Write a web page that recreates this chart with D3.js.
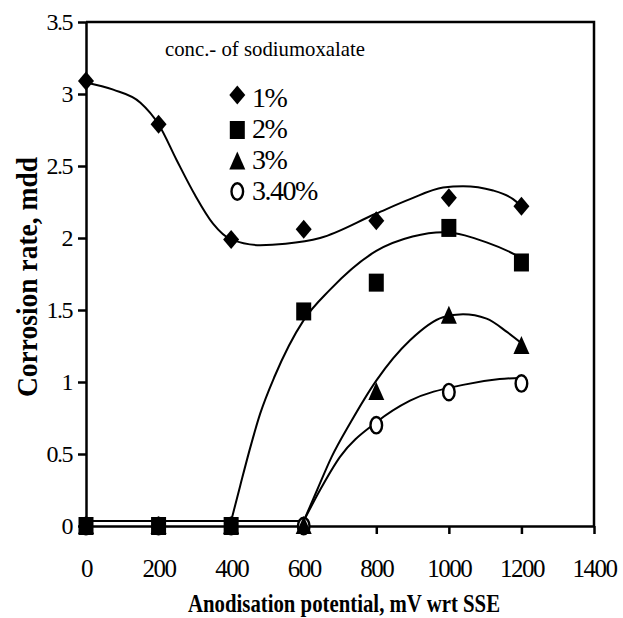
<!DOCTYPE html>
<html><head><meta charset="utf-8">
<script src="https://cdn.jsdelivr.net/npm/d3@7"></script>
<style>
html,body{margin:0;padding:0;background:#fff;}
</style></head>
<body><svg id="c" width="623" height="618" font-family="Liberation Serif, Tinos, Times New Roman, Times, DejaVu Serif, Noto Serif, serif"></svg>
<script>
// ---- data ----
const potentials = [0, 200, 400, 600, 800, 1000, 1200];
const seriesNames = ["1%", "2%", "3%", "3.40%"];
const rate1 = [3.09, 2.79, 1.99, 2.06, 2.12, 2.28, 2.22];
const rate2 = [0, 0, 0, 1.49, 1.69, 2.07, 1.83];
const rate3 = [0, 0, 0, 0, 0.93, 1.46, 1.25];
const rate4 = [0, 0, 0, 0, 0.70, 0.93, 0.99];
// smoothed trend curves as drawn in the reference (mV, mdd)
const trend1 = [[0,3.08],[75,3.03],[150,2.94],[200,2.79],[250,2.54],[300,2.30],[350,2.10],[400,1.99],[480,1.95],[550,1.96],[645,2.00],[800,2.17],[893,2.27],[984,2.35],[1039,2.36],[1122,2.33],[1177,2.27],[1200,2.22]];
const base2 = [[0,0.035],[400,0.035]];
const trend2 = [[400,0.035],[425,0.28],[450,0.52],[480,0.78],[520,1.04],[600,1.43],[672,1.64],[800,1.91],[900,2.01],[984,2.04],[1104,1.97],[1186,1.88],[1200,1.86]];
const base3 = [[0,0.035],[600,0.035]];
const trend3 = [[600,0.035],[637,0.25],[677,0.48],[727,0.71],[800,1.01],[893,1.29],[984,1.45],[1039,1.47],[1104,1.44],[1159,1.35],[1200,1.27]];
const base4 = [[0,0.035],[600,0.035]];
const trend4 = [[600,0.035],[645,0.25],[700,0.48],[800,0.72],[893,0.87],[1039,0.98],[1140,1.02],[1200,1.03]];
const xTicks = [0, 200, 400, 600, 800, 1000, 1200, 1400];
const yTicks = [0, 0.5, 1, 1.5, 2, 2.5, 3, 3.5];
const xTitle = "Anodisation potential, mV wrt SSE";
const yTitle = "Corrosion rate, mdd";
const legendTitle = "conc.- of sodiumoxalate";

// ---- layout ----
const svg = d3.select("#c");
const x = d3.scaleLinear().domain([0, 1400]).range([86, 594]);
const y = d3.scaleLinear().domain([0, 3.5]).range([526, 22]);

svg.append("path")
  .attr("d", `M${x(0)},${y(3.5)}H${x(1400)}V${y(0)}`)
  .attr("fill","none").attr("stroke","#000").attr("stroke-width",2.5);

const xAxis = d3.axisBottom(x).tickValues(xTicks).tickSize(8).tickSizeOuter(0).tickFormat(d3.format("d"));
const gx = svg.append("g").attr("transform",`translate(0,${y(0)})`).call(xAxis);
gx.attr("font-family", null).attr("font-size", null);
gx.select(".domain").attr("stroke-width",2.5);
gx.selectAll(".tick line").attr("stroke-width",2.5);
gx.selectAll(".tick text").attr("y",51).attr("dy",null).attr("fill","#000")
  .attr("font-size",25).attr("letter-spacing",-1.5);

const yAxis = d3.axisLeft(y).tickValues(yTicks).tickSize(8).tickSizeOuter(0).tickFormat(d => String(d));
const gy = svg.append("g").attr("transform",`translate(${x(0)},0)`).call(yAxis);
gy.attr("font-family", null).attr("font-size", null);
gy.select(".domain").attr("stroke-width",2.5);
gy.selectAll(".tick line").attr("stroke-width",2.5);
gy.selectAll(".tick text").attr("x",-14).attr("fill","#000")
  .attr("font-size",24).attr("letter-spacing",-1.5);

svg.append("text").attr("x",344).attr("y",612).attr("text-anchor","middle")
  .attr("textLength",312).attr("lengthAdjust","spacingAndGlyphs")
  .attr("font-size",25).attr("font-weight","bold").text(xTitle);
svg.append("text").attr("transform","translate(37,277) rotate(-90)").attr("text-anchor","middle")
  .attr("textLength",240).attr("lengthAdjust","spacingAndGlyphs")
  .attr("font-size",30).attr("font-weight","bold").text(yTitle);

const line = d3.line().x(d => x(d[0])).y(d => y(d[1]));
const curve = d3.line().x(d => x(d[0])).y(d => y(d[1])).curve(d3.curveMonotoneX);
const gl = svg.append("g").attr("fill","none").attr("stroke","#000").attr("stroke-width",2);
[base2, base3, base4].forEach(b => gl.append("path").attr("d", line(b)));
[trend1, trend2, trend3, trend4].forEach(t => gl.append("path").attr("d", curve(t)));

function marker(g, type, cx, cy) {
  if (type === 0) {
    g.append("path").attr("d",`M${cx},${cy-9.5}L${cx+8},${cy}L${cx},${cy+9.5}L${cx-8},${cy}Z`).attr("fill","#000");
  } else if (type === 1) {
    g.append("rect").attr("x",cx-7.5).attr("y",cy-9).attr("width",15).attr("height",18).attr("fill","#000");
  } else if (type === 2) {
    g.append("path").attr("d",`M${cx},${cy-10}L${cx+8},${cy+8}L${cx-8},${cy+8}Z`).attr("fill","#000");
  } else {
    g.append("ellipse").attr("cx",cx).attr("cy",cy).attr("rx",5.8).attr("ry",8.2)
      .attr("fill","#fff").attr("stroke","#000").attr("stroke-width",2.4);
  }
}
const rates = [rate1, rate2, rate3, rate4];
const gm = svg.append("g");
[3, 2, 1, 0].forEach(si => {
  rates[si].forEach((v, i) => marker(gm, si, x(potentials[i]), y(v)));
});

svg.append("text").attr("x",165).attr("y",56).attr("textLength",200).attr("lengthAdjust","spacingAndGlyphs")
  .attr("font-size",21).text(legendTitle);
const legY = [95, 130, 161.5, 191.5];
const legBase = [107, 138, 169, 200];
const gleg = svg.append("g");
seriesNames.forEach((n, i) => {
  marker(gleg, i, 237.3, legY[i]);
  gleg.append("text").attr("x",252).attr("y",legBase[i])
    .attr("font-size",28).attr("letter-spacing",-1.5).text(n);
});
</script>
</body></html>
